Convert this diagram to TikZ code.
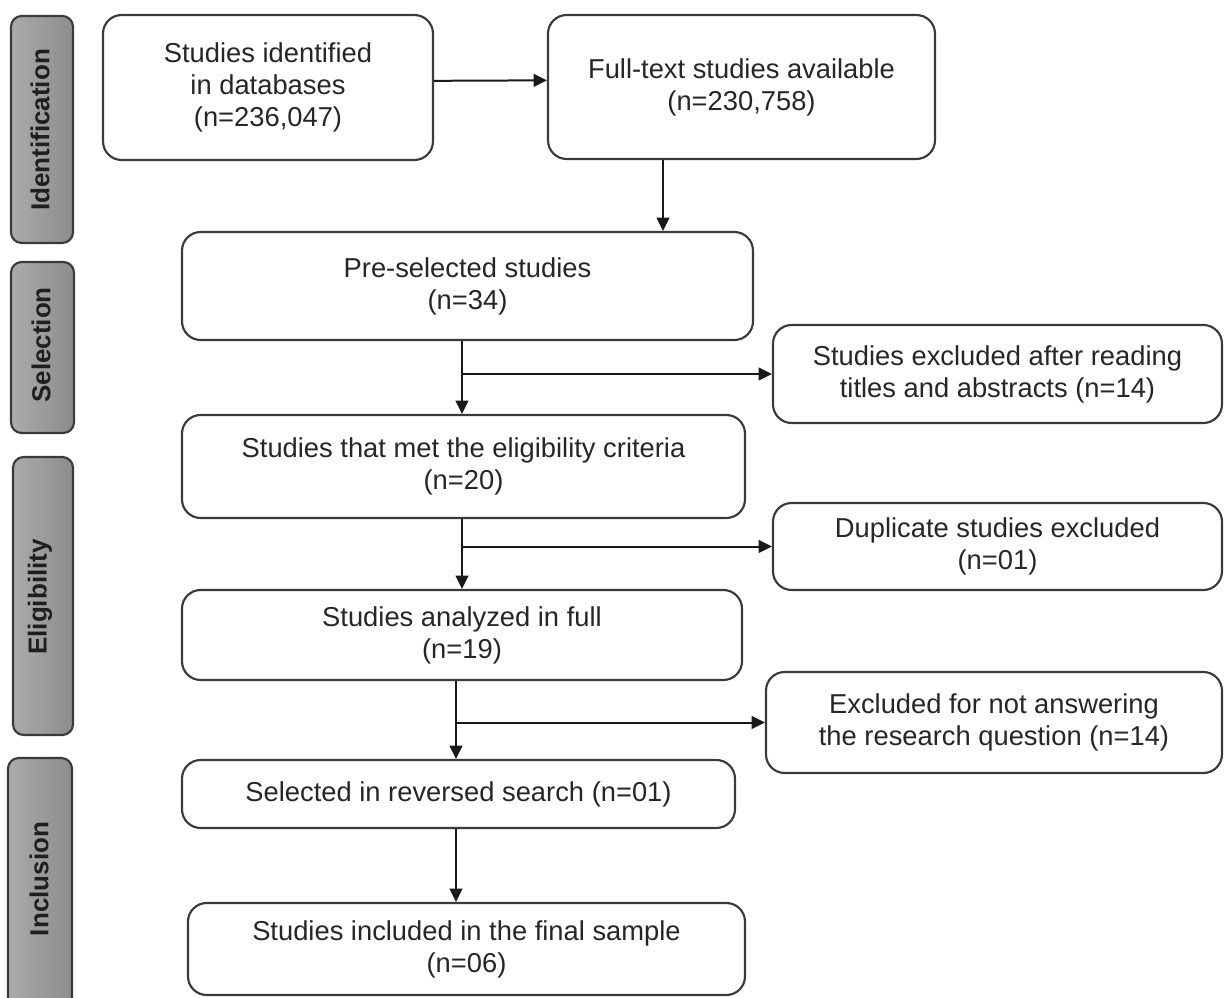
\documentclass[tikz,border=0pt]{standalone}
\usepackage{fontspec}
\setmainfont{Liberation Sans}
\usetikzlibrary{arrows.meta}
\definecolor{edge}{HTML}{3A3A3A}
\definecolor{txt}{HTML}{262626}
\definecolor{barA}{HTML}{ABABAB}
\definecolor{barB}{HTML}{8C8C8C}
\begin{document}
\begin{tikzpicture}[x=0.75pt,y=-0.75pt,
  box/.style={draw=edge,line width=1.6pt,rounded corners=14pt,fill=white,align=center,inner sep=0pt,text=txt,font=\fontsize{20.5}{24}\selectfont},
  sz/.style 2 args={minimum width=#1*0.75pt,minimum height=#2*0.75pt},
  bar/.style={draw=edge,line width=1.6pt,rounded corners=8pt,left color=barA,right color=barB,inner sep=0pt},
  barlabel/.style={rotate=90,font=\fontsize{19.5}{24}\selectfont\bfseries,text=black!88,inner sep=0pt},
  arr/.style={draw=black!90,line width=1.5pt,-{Triangle[length=10pt,width=9.5pt]}}]
\useasboundingbox (0,0) rectangle (1225,998);
\clip (0,0) rectangle (1225,998);

% phase bars
\node[bar,sz={62}{227}] (s1) at (42,129.5) {};
\node[barlabel] (l1) at (40,130) {Identification};
\node[bar,sz={63}{171}] (s2) at (42.5,347.5) {};
\node[barlabel] (l2) at (41,345) {Selection};
\node[bar,sz={60}{278}] (s3) at (43,596) {};
\node[barlabel] (l3) at (40,597) {Eligibility};
\node[bar,sz={64}{257}] (s4) at (40,886.5) {};
\node[barlabel] (l4) at (39,879) {Inclusion};

% boxes
\node[box,sz={330}{145}] (A) at (268,87.5) {Studies identified\\in databases\\(n=236,047)};
\node[box,sz={387}{144}] (B) at (741.5,87) {Full-text studies available\\(n=230,758)};
\node[box,sz={571}{108}] (C) at (467.5,286) {Pre-selected studies\\(n=34)};
\node[box,sz={449}{98}] (E) at (997.5,374) {Studies excluded after reading\\titles and abstracts (n=14)};
\node[box,sz={563}{103}] (D) at (463.5,466.5) {Studies that met the eligibility criteria\\(n=20)};
\node[box,sz={449}{87}] (G) at (997.5,546.5) {Duplicate studies excluded\\(n=01)};
\node[box,sz={560}{90}] (F) at (462,635) {Studies analyzed in full\\(n=19)};
\node[box,sz={456}{101}] (I) at (994,722.5) {Excluded for not answering\\the research question (n=14)};
\node[box,sz={553}{68}] (H) at (458.5,794) {Selected in reversed search (n=01)};
\node[box,sz={557}{92}] (J) at (466.5,949) {Studies included in the final sample\\(n=06)};

% connectors
\coordinate (xb) at (663,0);
\coordinate (x1) at (462,0);
\coordinate (x2) at (456,0);
\draw[arr] ([yshift=5pt]A.east) -- ([yshift=5pt]B.west);
\draw[arr] (B.south -| xb) -- (C.north -| xb);
\draw[arr] (C.south -| x1) -- (D.north -| x1);
\draw[arr] (E.west -| x1) -- (E.west);
\draw[arr] (D.south -| x1) -- (F.north -| x1);
\draw[arr] (G.west -| x1) -- (G.west);
\draw[arr] (F.south -| x2) -- (H.north -| x2);
\draw[arr] (I.west -| x2) -- (I.west);
\draw[arr] (H.south -| x2) -- (J.north -| x2);
\end{tikzpicture}
\end{document}
